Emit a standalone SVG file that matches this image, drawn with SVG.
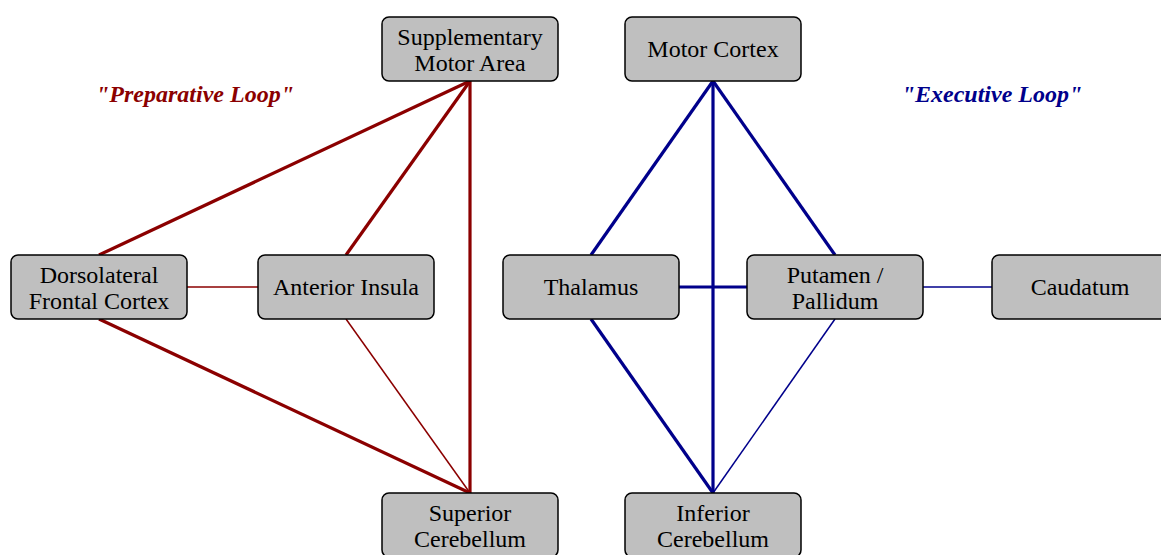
<svg xmlns="http://www.w3.org/2000/svg" width="1161" height="555" viewBox="0 0 1161 555">
<style>
.node rect{fill:#bfbfbf;stroke:#000;stroke-width:1.5}
.node text{font-family:"Liberation Serif","Times New Roman",serif;font-size:24px;fill:#000;text-anchor:middle}
.r{stroke:#8b0000;fill:none}
.b{stroke:#00008b;fill:none}
.thick{stroke-width:3.2}
.thin{stroke-width:1.5}
.lbl{font-family:"Liberation Serif","Times New Roman",serif;font-size:24px;font-weight:bold;font-style:italic;text-anchor:middle}
</style>
<rect width="1161" height="555" fill="#fff"/>
<g id="connectors">
<line class="r thick" x1="470" y1="81" x2="99" y2="255"/>
<line class="r thick" x1="470" y1="81" x2="346" y2="255"/>
<line class="r thick" x1="470" y1="81" x2="470" y2="493"/>
<line class="r thick" x1="99" y1="319" x2="470" y2="493"/>
<line class="r thin" x1="346" y1="319" x2="470" y2="493"/>
<line class="r thin" x1="187" y1="287" x2="258" y2="287"/>
<line class="b thick" x1="713" y1="81" x2="591" y2="255"/>
<line class="b thick" x1="713" y1="81" x2="835" y2="255"/>
<line class="b thick" x1="713" y1="81" x2="713" y2="493"/>
<line class="b thick" x1="591" y1="319" x2="713" y2="493"/>
<line class="b thin" x1="835" y1="319" x2="713" y2="493"/>
<line class="b thick" x1="679" y1="287" x2="747" y2="287"/>
<line class="b thin" x1="923" y1="287" x2="992" y2="287"/>
</g>
<text class="lbl" x="195" y="102" fill="#8b0000">"Preparative Loop"</text>
<text class="lbl" x="992" y="102" fill="#00008b">"Executive Loop"</text>
<g id="sma" class="node"><rect x="382" y="17" width="176" height="64" rx="7"/><text x="470" y="45">Supplementary</text><text x="470" y="71">Motor Area</text></g>
<g id="motor" class="node"><rect x="625" y="17" width="176" height="64" rx="7"/><text x="713" y="57">Motor Cortex</text></g>
<g id="dlfc" class="node"><rect x="11" y="255" width="176" height="64" rx="7"/><text x="99" y="283">Dorsolateral</text><text x="99" y="309">Frontal Cortex</text></g>
<g id="insula" class="node"><rect x="258" y="255" width="176" height="64" rx="7"/><text x="346" y="295">Anterior Insula</text></g>
<g id="thalamus" class="node"><rect x="503" y="255" width="176" height="64" rx="7"/><text x="591" y="295">Thalamus</text></g>
<g id="putamen" class="node"><rect x="747" y="255" width="176" height="64" rx="7"/><text x="835" y="283">Putamen /</text><text x="835" y="309">Pallidum</text></g>
<g id="caudatum" class="node"><rect x="992" y="255" width="176" height="64" rx="7"/><text x="1080" y="295">Caudatum</text></g>
<g id="supcb" class="node"><rect x="382" y="493" width="176" height="64" rx="7"/><text x="470" y="521">Superior</text><text x="470" y="547">Cerebellum</text></g>
<g id="infcb" class="node"><rect x="625" y="493" width="176" height="64" rx="7"/><text x="713" y="521">Inferior</text><text x="713" y="547">Cerebellum</text></g>
</svg>
